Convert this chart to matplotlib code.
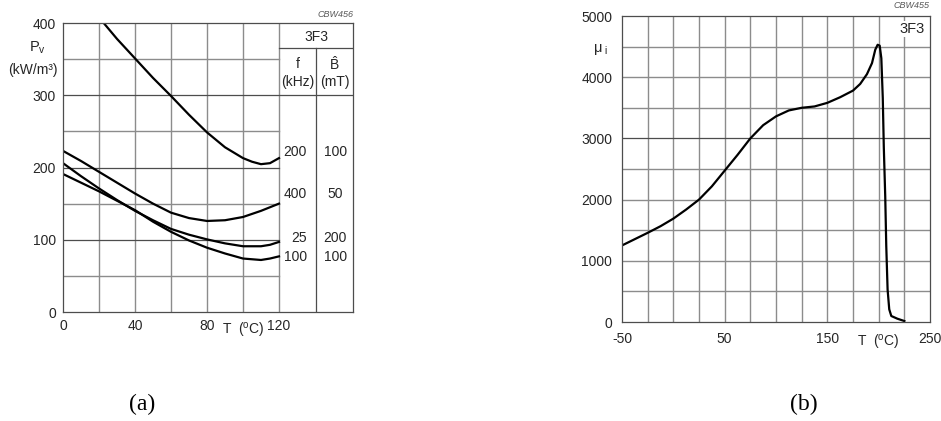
import numpy as np
import matplotlib
matplotlib.use('Agg')
import matplotlib.pyplot as plt

plt.rcParams['font.family'] = ['Liberation Sans', 'DejaVu Sans']
plt.rcParams['mathtext.fontset'] = 'custom'
plt.rcParams['mathtext.rm'] = 'Liberation Sans'
plt.rcParams['mathtext.it'] = 'Liberation Sans'

# (a) power loss vs temperature, 3F3
t_a = [0, 10, 20, 30, 40, 50, 60, 70, 80, 90, 100, 110, 115, 120]
pv_400_50 = [223, 209, 194, 179, 164, 150, 137.5, 130, 126, 127, 131.5, 140, 145, 150]
pv_25_200 = [206, 188, 171, 155, 140, 127, 115, 107, 100.5, 95, 91, 91, 93, 97]
pv_100_100 = [191, 179, 167, 154, 141, 125, 111, 99, 89, 81, 74, 72, 74, 77]
t_a_hi = [22.6, 30, 40, 50, 60, 70, 80, 90, 100, 105, 110, 115, 120]
pv_200_100 = [400, 378, 351, 324, 299, 273, 248.6, 228, 213, 208, 204.6, 206, 213]
rows_f = ['200', '400', '25', '100']
rows_b = ['100', '50', '200', '100']
rows_y = [221, 163, 103, 76]

# (b) initial permeability vs temperature, 3F3
t_b = [-50, -25, -12.5, 0, 12.5, 25, 37.5, 50, 62.5, 75, 87.5, 100, 112.5, 125,
       137.5, 150, 162.5, 175, 182, 188.6, 193.5, 196.7, 199, 201, 202.6, 204,
       205, 206.4, 207.4, 208.7, 210.3, 212.3, 218.2, 225]
mu_i = [1251, 1457, 1565, 1689, 1838, 2000, 2216, 2473, 2730, 3000, 3216, 3360,
        3457, 3500, 3522, 3581, 3673, 3781, 3890, 4050, 4230, 4450, 4530, 4515,
        4310, 3660, 2860, 2050, 1240, 530, 207, 98, 54, 16]

W, H = 941, 421
fig = plt.figure(figsize=(W / 100, H / 100), dpi=100)

def frac(l, t, r, b):
    return [l / W, 1 - b / H, (r - l) / W, (b - t) / H]

major = dict(color='0.3', lw=0.9)
minor = dict(color='0.55', lw=1.0)
curve = dict(color='black', lw=1.6)

# ---------- (a)
ax = fig.add_axes(frac(63, 23, 353, 312))
xmax = 120 * 290 / 216
ax.set_xlim(0, xmax)
ax.set_ylim(0, 400)
for x in range(20, 121, 20):
    ax.plot([x, x], [0, 400], **minor)
for y in [50, 150, 250, 350]:
    ax.plot([0, 120], [y, y], **minor)
for y in [100, 200]:
    ax.plot([0, 120], [y, y], **major)
ax.plot([0, xmax], [300, 300], **major)
ax.plot([120, xmax], [365, 365], **major)
ax.plot([140.6, 140.6], [0, 365], **major)

ax.plot(t_a_hi, pv_200_100, **curve)
ax.plot(t_a, pv_400_50, **curve)
ax.plot(t_a, pv_25_200, **curve)
ax.plot(t_a, pv_100_100, **curve)

for s in ax.spines.values():
    s.set_color('0.3')
    s.set_linewidth(0.9)
ax.set_xticks([0, 40, 80, 120])
ax.set_yticks([0, 100, 200, 300, 400])
ax.tick_params(length=0, labelsize=10, colors='0.15', pad=5)

ax.text(140.6, 381, '3F3', ha='center', va='center', fontsize=10, color='0.15')
ax.text(130.5, 343, 'f', ha='center', va='center', fontsize=10, color='0.15')
ax.text(130.5, 318, '(kHz)', ha='center', va='center', fontsize=10, color='0.15')
ax.text(150.8, 343, r'$\mathregular{\hat{B}}$', ha='center', va='center', fontsize=10, color='0.15')
ax.text(150.8, 318, '(mT)', ha='center', va='center', fontsize=10, color='0.15')
for f, b, y in zip(rows_f, rows_b, rows_y):
    ax.text(135.5, y, f, ha='right', va='center', fontsize=10, color='0.15')
    ax.text(151.2, y, b, ha='center', va='center', fontsize=10, color='0.15')

ax.text(-14, 365, r'$\mathregular{P_v}$', ha='center', va='center', fontsize=10.5, color='0.15')
ax.text(-17, 335, '(kW/m³)', ha='center', va='center', fontsize=10, color='0.15')
ax.text(100, -25, r'T  $\mathregular{(^oC)}$', ha='center', va='center', fontsize=10, color='0.15')
ax.text(xmax, 405, 'CBW456', ha='right', va='bottom', fontsize=6.5, style='italic', color='0.35')

# ---------- (b)
bx = fig.add_axes(frac(622, 16, 930, 322))
bx.set_xlim(-50, 250)
bx.set_ylim(0, 5000)
for x in np.arange(-25, 250, 25):
    bx.plot([x, x], [0, 5000], **minor)
for y in range(500, 5000, 500):
    bx.plot([-50, 250], [y, y], **(major if y == 3000 else minor))
bx.plot(t_b, mu_i, **curve)
for s in bx.spines.values():
    s.set_color('0.3')
    s.set_linewidth(0.9)
bx.set_xticks([-50, 50, 150, 250])
bx.set_xticklabels(['-50', '50', '150', '250'])
bx.set_yticks(range(0, 5001, 1000))
bx.tick_params(length=0, labelsize=10, colors='0.15', pad=7)
bx.text(233, 4790, '3F3', ha='center', va='center', fontsize=10.5, color='0.15',
        bbox=dict(facecolor='white', edgecolor='none', pad=0.5))
bx.text(-71, 4450, r'$\mathregular{\mu_{\ i}}$', ha='center', va='center', fontsize=10.5, color='0.15',
        clip_on=False)
bx.text(200, -330, r'T  $\mathregular{(^oC)}$', ha='center', va='center', fontsize=10, color='0.15')
bx.text(250, 5100, 'CBW455', ha='right', va='bottom', fontsize=6.5, style='italic', color='0.35')

fig.text(142 / W, 1 - 404 / H, '(a)', ha='center', va='center', fontsize=17, family='Liberation Serif')
fig.text(804 / W, 1 - 404 / H, '(b)', ha='center', va='center', fontsize=17, family='Liberation Serif')

fig.savefig('out.png', dpi=100)
